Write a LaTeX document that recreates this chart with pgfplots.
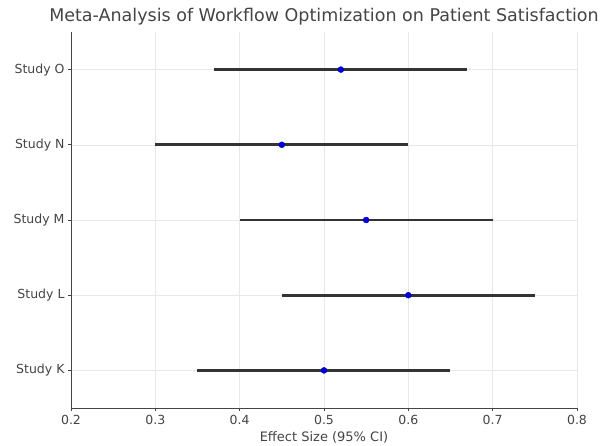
\documentclass[border=0pt]{standalone}
\usepackage{pgfplots}
\pgfplotsset{compat=1.18}
\usepackage{pgfplotstable}
\usepackage{fontspec}
\setmainfont{DejaVu Sans}
\usetikzlibrary{calc}
\definecolor{txt}{HTML}{444444}
\definecolor{gridc}{HTML}{E8E8E8}
\definecolor{ci}{HTML}{333333}
\pgfplotstableread{
y x lo hi
0 0.50 0.15 0.15
1 0.60 0.15 0.15
2 0.55 0.15 0.15
3 0.45 0.15 0.15
4 0.52 0.15 0.15
}\studies
\begin{document}
\begin{tikzpicture}
\begin{axis}[
  scale only axis, width=506pt, height=376pt,
  xmin=0.2, xmax=0.8, ymin=-0.5, ymax=4.5,
  xtick={0.2,0.3,...,0.8},
  xticklabels={0.2,0.3,0.4,0.5,0.6,0.7,0.8},
  ytick={0,1,2,3,4},
  yticklabels={Study K,Study L,Study M,Study N,Study O},
  axis x line*=bottom, axis y line*=left,
  axis line style={draw=txt, line width=0.9pt, -},
  tick style={draw=txt, line width=0.6pt},
  tick align=outside, major tick length=3pt,
  xmajorgrids, ymajorgrids,
  grid style={gridc, line width=0.5pt},
  tick label style={font=\fontsize{12.5}{14}\selectfont, text=txt},
  xticklabel style={yshift=-1pt},
  /pgf/number format/assume math mode=true,
  xlabel={Effect Size (95\% CI)},
  xlabel style={font=\fontsize{13}{15}\selectfont, text=txt, at={(0.5,0)}, anchor=base, yshift=-34pt},
  title={Meta-Analysis of Workflow Optimization on Patient Satisfaction},
  title style={font=\fontsize{17.5}{20}\selectfont, text=txt, at={(0.5,1)}, anchor=base, yshift=4pt},
  clip=false,
]
\addplot[draw=none, mark=none, forget plot,
  error bars/.cd, x dir=both, x explicit, error mark=none,
  error bar style={line width=2.8pt, ci}]
  table[x=x, y=y, x error minus=lo, x error plus=hi] {\studies};
\addplot[only marks, mark=*, mark size=3pt, color=blue!85!black]
  table[x=x, y=y] {\studies};
\end{axis}
\pgfresetboundingbox
\path[use as bounding box] ($(current axis.south west)+(-71pt,-38pt)$) rectangle ($(current axis.south west)+(540pt,408pt)$);
\end{tikzpicture}
\end{document}
